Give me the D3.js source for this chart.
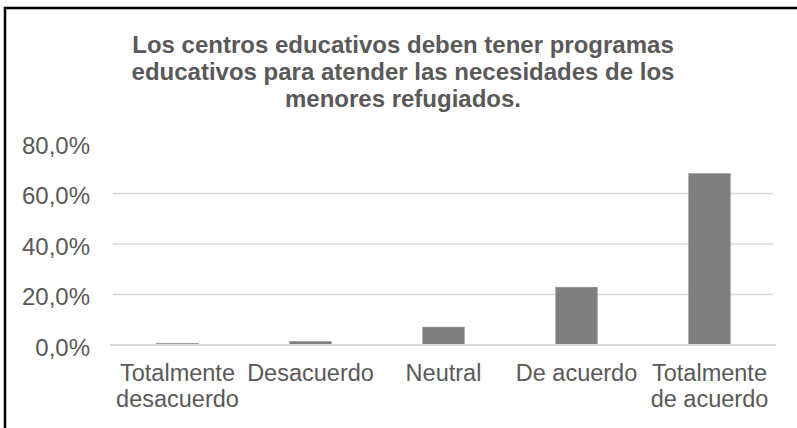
<!DOCTYPE html>
<html>
<head>
<meta charset="utf-8">
<script src="https://cdn.jsdelivr.net/npm/d3@7"></script>
<style>
  html, body { margin: 0; padding: 0; background: #fff; }
  svg { display: block; }
  text { font-family: "Liberation Sans", Arial, sans-serif; fill: #595959; }
</style>
</head>
<body>
<script>
const categories = ["Totalmente desacuerdo", "Desacuerdo", "Neutral", "De acuerdo", "Totalmente de acuerdo"];
const categoryLines = [["Totalmente", "desacuerdo"], ["Desacuerdo"], ["Neutral"], ["De acuerdo"], ["Totalmente", "de acuerdo"]];
const values = [0.7, 1.4, 7.1, 22.9, 67.9];
const yTicks = [0, 20, 40, 60, 80];
const tickLabels = ["0,0%", "20,0%", "40,0%", "60,0%", "80,0%"];
const titleLines = [
  "Los centros educativos deben tener programas",
  "educativos para atender las necesidades de los",
  "menores refugiados."
];

const W = 797, H = 428;
const svg = d3.select("body").append("svg").attr("width", W).attr("height", H);

// outer frame
svg.append("rect").attr("x", 5).attr("y", 8).attr("width", W).attr("height", H)
  .attr("fill", "none").attr("stroke", "#000").attr("stroke-width", 2.5);

const plot = { left: 111, right: 776, top: 143, bottom: 345 };

const x = d3.scaleBand().domain(categories).range([plot.left, plot.right])
  .paddingInner(0.687).paddingOuter(0.3435);
const y = d3.scaleLinear().domain([0, 80]).range([plot.bottom, plot.top]);

// gridlines (no line at top)
svg.append("g").selectAll("line").data(yTicks.filter(t => t > 0 && t < 80)).join("line")
  .attr("x1", plot.left + 2).attr("x2", plot.right - 3)
  .attr("y1", d => y(d)).attr("y2", d => y(d))
  .attr("stroke", "#d9d9d9").attr("stroke-width", 1.5);

// y tick labels
svg.append("g").selectAll("text").data(yTicks).join("text")
  .attr("x", 90).attr("y", d => y(d) + 2)
  .attr("text-anchor", "end").attr("dominant-baseline", "central")
  .style("font-size", "24px")
  .text((d, i) => tickLabels[i]);

// bars
svg.append("g").selectAll("rect").data(values).join("rect")
  .attr("x", (d, i) => x(categories[i]))
  .attr("width", x.bandwidth())
  .attr("y", d => y(d))
  .attr("height", d => y(0) - y(d))
  .attr("fill", "#7f7f7f")
  .attr("stroke", "#9a9a9a").attr("stroke-width", 0.6);

// baseline
svg.append("line").attr("x1", plot.left - 1).attr("x2", plot.right)
  .attr("y1", y(0)).attr("y2", y(0))
  .attr("stroke", "#d9d9d9").attr("stroke-width", 1.8);

// x labels
const xl = svg.append("g").selectAll("text").data(categories).join("text")
  .attr("x", d => x(d) + x.bandwidth() / 2)
  .attr("y", 381)
  .attr("text-anchor", "middle")
  .style("font-size", "23.5px");
xl.each(function(d, i) {
  const t = d3.select(this);
  categoryLines[i].forEach((ln, j) => {
    t.append("tspan").attr("x", x(d) + x.bandwidth() / 2).attr("dy", j === 0 ? 0 : 26).text(ln);
  });
});

// title
svg.append("g").selectAll("text").data(titleLines).join("text")
  .attr("x", 403).attr("y", (d, i) => 53 + i * 27)
  .attr("text-anchor", "middle")
  .style("font-size", "24px").style("font-weight", "bold")
  .text(d => d);
</script>
</body>
</html>
